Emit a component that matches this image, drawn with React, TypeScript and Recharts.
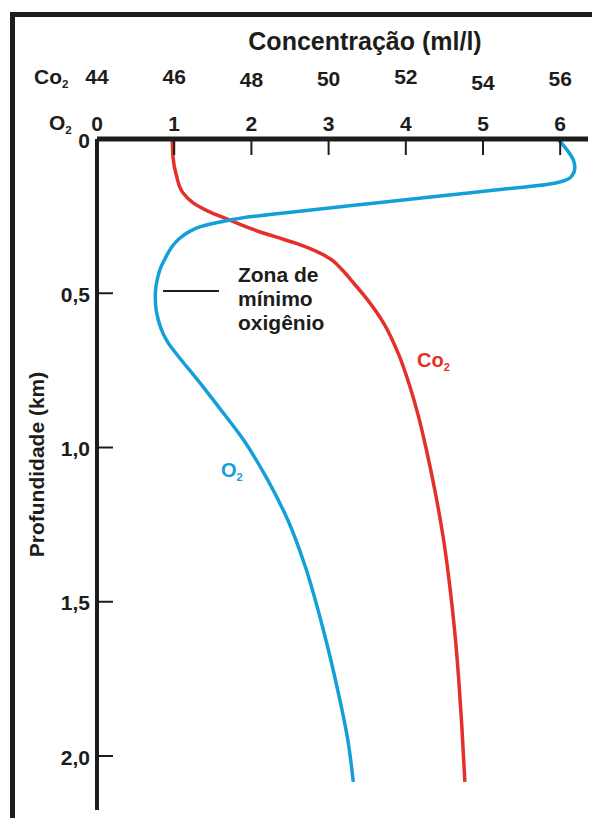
import React from "react";
import { LineChart, Line, XAxis, YAxis, ReferenceLine, ReferenceDot } from "recharts";

// axis ticks
const depthTicks = [0, 0.5, 1, 1.5, 2];
const o2Ticks = [0, 1, 2, 3, 4, 5, 6];
const co2Ticks = [44, 46, 48, 50, 52, 54, 56];

// CO2 profile (ml/l) vs depth (km)
const co2Depth = [0, 0.06, 0.12, 0.175, 0.207, 0.233, 0.26, 0.29, 0.315, 0.34, 0.365, 0.39, 0.42, 0.46, 0.52, 0.6, 0.7, 0.8, 0.9, 1.0, 1.15, 1.3, 1.45, 1.6, 1.75, 1.9, 2.084];
const co2Values = [45.95, 45.97, 46.06, 46.23, 46.49, 46.86, 47.38, 47.97, 48.57, 49.2, 49.7, 50.06, 50.32, 50.6, 51.0, 51.44, 51.82, 52.1, 52.33, 52.52, 52.77, 52.98, 53.14, 53.27, 53.37, 53.45, 53.53];

// O2 profile (ml/l) vs depth (km)
const o2Depth = [0, 0.036, 0.068, 0.094, 0.12, 0.136, 0.146, 0.164, 0.185, 0.206, 0.227, 0.245, 0.254, 0.264, 0.274, 0.285, 0.301, 0.324, 0.353, 0.389, 0.42, 0.45, 0.48, 0.51, 0.54, 0.57, 0.6, 0.63, 0.66, 0.7, 0.78, 0.87, 0.98, 1.1, 1.24, 1.38, 1.58, 1.8, 1.95, 2.084];
const o2Values = [5.97, 6.09, 6.17, 6.19, 6.15, 6.04, 5.87, 5.22, 4.44, 3.67, 2.89, 2.24, 1.92, 1.7, 1.5, 1.33, 1.19, 1.06, 0.96, 0.88, 0.82, 0.785, 0.763, 0.755, 0.76, 0.778, 0.81, 0.855, 0.92, 1.04, 1.3, 1.58, 1.91, 2.2, 2.48, 2.69, 2.92, 3.13, 3.25, 3.32];

const co2Data = co2Depth.map((d, i) => ({ d, co2: co2Values[i] }));
const o2Data = o2Depth.map((d, i) => ({ d, o2: o2Values[i] }));

const INK = "#1d1d1b";
const RED = "#e3302a";
const BLUE = "#13a0d8";
const FONT = "'Liberation Sans', Arial, Helvetica, sans-serif";

// axis ids: O2 axis sits right on the plot, CO2 axis above it
const O2_AXIS = "a_o2";
const CO2_AXIS = "b_co2";

// small vertical nudges of the CO2 labels, as in the original figure
const co2Nudge: Record<number, number> = { 48: 3, 50: 2, 54: 6, 56: 2 };

// eslint-disable-next-line @typescript-eslint/no-explicit-any
function O2Tick(props: any) {
  const { x, y, payload } = props;
  return (
    <g>
      <line x1={x} y1={y} x2={x} y2={y + 16} stroke={INK} strokeWidth={2} />
      <text x={x} y={y - 16} textAnchor="middle" dominantBaseline="central" fontSize={21} fontWeight={700} fill={INK} fontFamily={FONT}>
        {payload.value}
      </text>
    </g>
  );
}

// eslint-disable-next-line @typescript-eslint/no-explicit-any
function Co2Tick(props: any) {
  const { x, y, payload } = props;
  const nudge = co2Nudge[payload.value] || 0;
  return (
    <text x={x} y={y - 23 + nudge} textAnchor="middle" dominantBaseline="central" fontSize={21} fontWeight={700} fill={INK} fontFamily={FONT}>
      {payload.value}
    </text>
  );
}

// eslint-disable-next-line @typescript-eslint/no-explicit-any
function DepthTick(props: any) {
  const { x, y, payload } = props;
  const label = payload.value === 0 ? "0" : payload.value.toFixed(1).replace(".", ",");
  return (
    <g>
      <line x1={x} y1={y} x2={x + 16} y2={y} stroke={INK} strokeWidth={2} />
      <text x={x - 7} y={y + 1} textAnchor="end" dominantBaseline="central" fontSize={21} fontWeight={700} fill={INK} fontFamily={FONT}>
        {label}
      </text>
    </g>
  );
}

// gas name with a subscript 2
function GasName({ x, y, name, color, size }: { x: number; y: number; name: string; color: string; size: number }) {
  return (
    <text x={x} y={y} fontSize={size} fontWeight={700} fill={color} fontFamily={FONT}>
      {name}
      <tspan fontSize={size * 0.55} dy={size * 0.2}>2</tspan>
    </text>
  );
}

export default function App() {
  return (
    <div style={{ position: "absolute", left: 0, top: 0, width: 592, height: 818, background: "#fff", overflow: "hidden" }}>
      {/* outer frame */}
      <div
        style={{
          position: "absolute",
          left: 10,
          top: 12,
          right: 0,
          bottom: 0,
          borderTop: `5px solid ${INK}`,
          borderLeft: `5px solid ${INK}`,
        }}
      />
      <div style={{ position: "absolute", left: 0, top: 0 }}>
        <LineChart width={592} height={818} layout="vertical" margin={{ top: 59, right: 4, bottom: 8, left: 0 }}>
          <XAxis
            xAxisId={CO2_AXIS}
            type="number"
            orientation="top"
            domain={[44, 56.72]}
            ticks={co2Ticks}
            interval={0}
            allowDataOverflow
            height={40}
            tickSize={0}
            tickMargin={0}
            tickLine={false}
            axisLine={false}
            tick={Co2Tick}
            label={{
              // eslint-disable-next-line @typescript-eslint/no-explicit-any
              content: (p: any) => (
                <g>
                  <text x={365} y={p.viewBox.y - 18} textAnchor="middle" dominantBaseline="central" fontSize={25} fontWeight={700} fill={INK} fontFamily={FONT}>
                    Concentração (ml/l)
                  </text>
                  <GasName x={p.viewBox.x - 63} y={p.viewBox.y + 25} name="Co" color={INK} size={21} />
                </g>
              ),
            }}
          />
          <XAxis
            xAxisId={O2_AXIS}
            type="number"
            orientation="top"
            domain={[0, 6.36]}
            ticks={o2Ticks}
            interval={0}
            allowDataOverflow
            height={40}
            tickSize={0}
            tickMargin={0}
            tickLine={false}
            axisLine={{ stroke: INK, strokeWidth: 5 }}
            tick={O2Tick}
            label={{
              // eslint-disable-next-line @typescript-eslint/no-explicit-any
              content: (p: any) => <GasName x={p.viewBox.x - 48} y={p.viewBox.y + 31} name="O" color={INK} size={21} />,
            }}
          />
          <YAxis
            type="number"
            dataKey="d"
            domain={[0, 2.175]}
            ticks={depthTicks}
            interval={0}
            allowDataOverflow
            width={97}
            tickSize={0}
            tickMargin={0}
            tickLine={false}
            axisLine={{ stroke: INK, strokeWidth: 4 }}
            tick={DepthTick}
            label={{
              // eslint-disable-next-line @typescript-eslint/no-explicit-any
              content: (p: any) => {
                const cx = p.viewBox.x + 36;
                const cy = p.viewBox.y + p.viewBox.height / 2 - 10;
                return (
                  <text x={cx} y={cy} transform={`rotate(-90, ${cx}, ${cy})`} textAnchor="middle" dominantBaseline="central" fontSize={21} fontWeight={700} fill={INK} fontFamily={FONT}>
                    Profundidade (km)
                  </text>
                );
              },
            }}
          />

          {/* leader line of the minimum oxygen zone */}
          <ReferenceLine
            xAxisId={O2_AXIS}
            segment={[
              { x: 0.855, y: 0.493 },
              { x: 1.58, y: 0.493 },
            ]}
            stroke={INK}
            strokeWidth={2}
          />
          <ReferenceDot
            xAxisId={O2_AXIS}
            x={1.826}
            y={0.4635}
            r={1}
            fill="none"
            stroke="none"
            label={{
              // eslint-disable-next-line @typescript-eslint/no-explicit-any
              content: (p: any) => {
                const x = p.viewBox.x + p.viewBox.width / 2;
                const y = p.viewBox.y + p.viewBox.height / 2;
                return (
                  <text fontSize={21} fontWeight={700} fill={INK} fontFamily={FONT}>
                    <tspan x={x} y={y}>Zona de</tspan>
                    <tspan x={x} y={y + 24}>mínimo</tspan>
                    <tspan x={x} y={y + 48}>oxigênio</tspan>
                  </text>
                );
              },
            }}
          />

          <Line xAxisId={CO2_AXIS} data={co2Data} dataKey="co2" type="monotone" stroke={RED} strokeWidth={3.5} dot={false} isAnimationActive={false} />
          <Line xAxisId={O2_AXIS} data={o2Data} dataKey="o2" type="monotone" stroke={BLUE} strokeWidth={3.5} dot={false} isAnimationActive={false} />

          {/* series names */}
          <ReferenceDot
            xAxisId={CO2_AXIS}
            x={52.29}
            y={0.739}
            r={1}
            fill="none"
            stroke="none"
            label={{
              // eslint-disable-next-line @typescript-eslint/no-explicit-any
              content: (p: any) => <GasName x={p.viewBox.x + p.viewBox.width / 2} y={p.viewBox.y + p.viewBox.height / 2} name="Co" color={RED} size={20} />,
            }}
          />
          <ReferenceDot
            xAxisId={O2_AXIS}
            x={1.606}
            y={1.096}
            r={1}
            fill="none"
            stroke="none"
            label={{
              // eslint-disable-next-line @typescript-eslint/no-explicit-any
              content: (p: any) => <GasName x={p.viewBox.x + p.viewBox.width / 2} y={p.viewBox.y + p.viewBox.height / 2} name="O" color={BLUE} size={20} />,
            }}
          />
        </LineChart>
      </div>
    </div>
  );
}
